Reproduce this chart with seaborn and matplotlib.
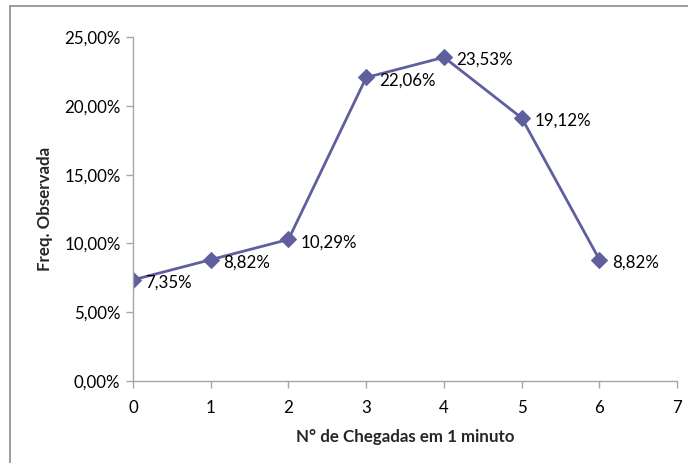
import pandas as pd
import matplotlib.pyplot as plt
import matplotlib.lines as mlines
import seaborn as sns
from matplotlib.ticker import FuncFormatter

chegadas = [0, 1, 2, 3, 4, 5, 6]
freq_obs = [7.35, 8.82, 10.29, 22.06, 23.53, 19.12, 8.82]

df = pd.DataFrame({"chegadas": chegadas, "freq": freq_obs})

sns.set_style("white")
plt.rcParams["font.family"] = ["Lato", "DejaVu Sans"]

line_color = "#5F5F9E"
axis_color = "#A6A6A6"
fs = 12.2

fig = plt.figure(figsize=(6.88, 4.63), dpi=100)
ax = fig.add_axes([0.1933, 0.177, 0.791, 0.743])

sns.lineplot(data=df, x="chegadas", y="freq", ax=ax, color=line_color,
             linewidth=2, marker="D", markersize=8.5, markeredgecolor=line_color)

for x, y in zip(chegadas, freq_obs):
    ax.annotate(f"{y:.2f}%".replace(".", ","), (x, y), xytext=(9, -2),
                textcoords="offset points", ha="left", va="center",
                fontsize=fs, color="black")

ax.set_xlim(0, 7)
ax.set_ylim(0, 25)
ax.set_xticks(range(0, 8))
ax.set_yticks([0, 5, 10, 15, 20, 25])
ax.yaxis.set_major_formatter(FuncFormatter(lambda v, p: f"{v:.2f}%".replace(".", ",")))
ax.tick_params(axis="both", which="major", length=5, width=1, color=axis_color,
               labelsize=fs, labelcolor="black", direction="out",
               bottom=True, left=True)
ax.tick_params(axis="x", pad=9)
ax.tick_params(axis="y", pad=4)

for side in ["top", "right"]:
    ax.spines[side].set_visible(False)
for side in ["left", "bottom"]:
    ax.spines[side].set_color(axis_color)
    ax.spines[side].set_linewidth(1)

ax.set_xlabel("N° de Chegadas em 1 minuto", fontsize=fs, fontweight="bold", labelpad=9)
ax.set_ylabel("Freq. Observada", fontsize=fs, fontweight="bold", labelpad=8)
ax.grid(False)

# outer chart border (only top and left visible in the crop)
fig.add_artist(mlines.Line2D([10 / 688, 10 / 688], [0, 1 - 6 / 463],
                             transform=fig.transFigure, color="#8C8C8C", linewidth=1.2))
fig.add_artist(mlines.Line2D([10 / 688, 1], [1 - 6 / 463, 1 - 6 / 463],
                             transform=fig.transFigure, color="#8C8C8C", linewidth=1.2))

fig.savefig("out.png", dpi=100)
